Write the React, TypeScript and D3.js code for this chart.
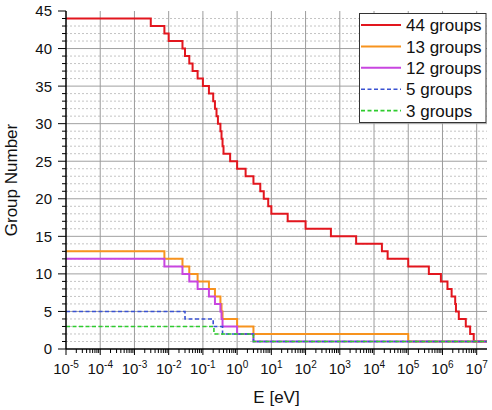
import React from 'react';
import * as d3 from 'd3';

// group boundaries in eV, high -> low (group 1 is the highest energy)
const bounds44 = [2e7, 8.1873e6, 6.434e6, 4.8e6, 3e6, 2.479e6, 2.354e6, 1.85e6, 1.4e6, 9e5, 4e5, 1e5,
  2.5e4, 1.7e4, 3e3, 550, 100, 30, 10, 8.1, 6, 4.75, 3, 1.77, 1, 0.625, 0.4, 0.375, 0.35, 0.325,
  0.275, 0.25, 0.225, 0.2, 0.15, 0.1, 0.07, 0.05, 0.04, 0.03, 0.0253, 0.01, 0.0075, 0.003, 1e-5];
const bounds13 = [2e7, 1e5, 3, 1, 0.375, 0.35, 0.325, 0.225, 0.15, 0.07, 0.04, 0.0253, 0.0075, 1e-5];
const bounds12 = [2e7, 3, 1, 0.375, 0.35, 0.325, 0.225, 0.15, 0.07, 0.04, 0.0253, 0.0075, 1e-5];
const bounds5 = [2e7, 3, 0.375, 0.2, 0.03, 1e-5];
const bounds3 = [2e7, 3, 0.21, 1e-5];

const seriesNames = ['44 groups', '13 groups', '12 groups', '5 groups', '3 groups'];
const seriesBounds = [bounds44, bounds13, bounds12, bounds5, bounds3];
const seriesColors = ['#e2161e', '#f7931e', '#c846e0', '#3a52d2', '#2ecc2e'];
const seriesDash = [null, null, null, '4,2.5', '4,2.5'];

const xDecades = d3.range(-5, 8);
const yMajor = [0, 5, 10, 15, 20, 25, 30, 35, 40, 45];

const W = 492, H = 410;
const m = { left: 66, right: 5, top: 11, bottom: 61 };

function stepPoints(b: number[]) {
  const n = b.length - 1;
  const pts: [number, number][] = [];
  for (let g = n; g >= 1; g--) pts.push([b[g], g]);
  pts.push([b[0], 1]);
  return pts;
}

export default function App() {
  const x = d3.scaleLog().domain([1e-5, 2e7]).range([m.left, W - m.right]);
  const y = d3.scaleLinear().domain([0, 45]).range([H - m.bottom, m.top]);
  const x0 = m.left, x1 = W - m.right, yb = H - m.bottom;

  const line = d3.line<[number, number]>()
    .x(d => x(d[0]))
    .y(d => y(d[1]))
    .curve(d3.curveStepAfter);

  const minorY = d3.range(1, 45).filter(v => v % 5 !== 0);
  const minorX: number[] = [];
  xDecades.forEach(p => {
    for (let k = 2; k <= 9; k++) {
      const v = k * Math.pow(10, p);
      if (v < 2e7) minorX.push(v);
    }
  });

  const font = 'Liberation Sans, Arial, sans-serif';

  return (
    <div style={{ position: 'absolute', left: 0, top: 0 }}>
      <svg width={W} height={H} style={{ display: 'block', background: '#fff' }} fontFamily={font}>
        {/* grid */}
        {minorY.map(v => (
          <line key={'gm' + v} x1={x0} x2={x1} y1={y(v)} y2={y(v)} stroke="#c4c4c4" strokeWidth={1} strokeDasharray="2,2" />
        ))}
        {yMajor.filter(v => v > 0 && v < 45).map(v => (
          <line key={'gy' + v} x1={x0} x2={x1} y1={y(v)} y2={y(v)} stroke="#a0a0a0" strokeWidth={1} />
        ))}
        {xDecades.filter(p => p > -5).map(p => (
          <line key={'gx' + p} x1={x(Math.pow(10, p))} x2={x(Math.pow(10, p))} y1={m.top} y2={yb} stroke="#9c9c9c" strokeWidth={1} />
        ))}

        {/* step lines */}
        {seriesBounds.map((b, i) => (
          <path key={'s' + i} d={line(stepPoints(b)) || ''} fill="none" stroke={seriesColors[i]}
            strokeWidth={i < 3 ? 2 : 1.6} strokeDasharray={seriesDash[i] || undefined} />
        ))}

        {/* y axis */}
        <line x1={x0} x2={x0} y1={m.top} y2={yb} stroke="#000" strokeWidth={1.5} />
        {d3.range(0, 46).map(v => (
          <line key={'yt' + v} x1={x0 - (v % 5 === 0 ? 8 : 4)} x2={x0} y1={y(v)} y2={y(v)} stroke="#000" strokeWidth={1} />
        ))}
        {yMajor.map(v => (
          <text key={'yl' + v} x={x0 - 14} y={y(v)} dy="0.36em" textAnchor="end" fontSize={15} fill="#111">{v}</text>
        ))}

        {/* x axis */}
        <line x1={x0} x2={x1} y1={yb} y2={yb} stroke="#000" strokeWidth={1.5} />
        {minorX.map((v, i) => (
          <line key={'xm' + i} x1={x(v)} x2={x(v)} y1={yb} y2={yb + 4} stroke="#000" strokeWidth={1} />
        ))}
        {xDecades.map(p => (
          <line key={'xt' + p} x1={x(Math.pow(10, p))} x2={x(Math.pow(10, p))} y1={yb} y2={yb + 6} stroke="#000" strokeWidth={1} />
        ))}
        {xDecades.map(p => (
          <text key={'xl' + p} x={x(Math.pow(10, p))} y={yb + 25} textAnchor="middle" fontSize={15} fill="#111">
            10<tspan dy={-6} fontSize={10}>{p}</tspan>
          </text>
        ))}

        {/* axis titles */}
        <text x={(x0 + x1) / 2} y={403} textAnchor="middle" fontSize={17} fill="#111">E [eV]</text>
        <text transform={`translate(17,${(m.top + yb) / 2}) rotate(-90)`} textAnchor="middle" fontSize={17} fill="#111">Group Number</text>

        {/* legend */}
        <rect x={359.5} y={13.5} width={126.5} height={109} fill="#fff" stroke="#333" strokeWidth={1} />
        {seriesNames.map((name, i) => {
          const ly = 25 + i * 21.4;
          return (
            <g key={'lg' + i}>
              <line x1={361} x2={401} y1={ly} y2={ly} stroke={seriesColors[i]} strokeWidth={i < 3 ? 2 : 1.6}
                strokeDasharray={seriesDash[i] || undefined} />
              <text x={406} y={ly} dy="0.36em" fontSize={17} fill="#111">{name}</text>
            </g>
          );
        })}
      </svg>
    </div>
  );
}
